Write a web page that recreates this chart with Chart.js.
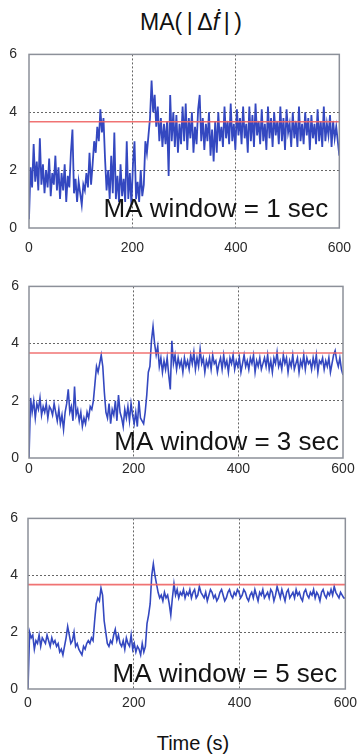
<!DOCTYPE html>
<html>
<head>
<meta charset="utf-8">
<script src="https://cdn.jsdelivr.net/npm/chart.js@4.4.1/dist/chart.umd.min.js"></script>
<style>
  body { margin: 0; background: #fff; width: 363px; height: 755px; position: relative; overflow: hidden;
         font-family: "Liberation Sans", Arial, sans-serif; }
  canvas { position: absolute; left: 0; }
  .lbl { position: absolute; white-space: nowrap; line-height: 1; color: #111; }
</style>
</head>
<body>
<div class="lbl" id="title" style="left:0; width:382px; text-align:center; top:11px; font-size:23px;">MA(&#8201;|&#8201;&Delta;<i>&#7711;</i>&#8201;|&#8201;)</div>
<canvas id="ma1" width="363" height="230" style="top:34px"></canvas>
<canvas id="ma3" width="363" height="226" style="top:268px"></canvas>
<canvas id="ma5" width="363" height="225" style="top:500px"></canvas>
<div class="lbl" style="left:0; width:386px; text-align:center; top:733px; font-size:20px;">Time (s)</div>

<script>
// sample spacing of the traces, seconds
var SAMPLE_SEC = 3;

// MA over 1 s window
var ma1 = [
  0.3, 2.1, 1.4, 2.9, 1.6, 2.3, 1.3, 3.1, 1.5, 2.2,
  1.2, 2.0, 1.4, 2.4, 1.1, 1.9, 1.5, 2.5, 1.3, 2.1,
  1.0, 1.9, 1.3, 2.2, 0.9, 1.8, 1.4, 2.6, 3.4, 1.2,
  1.7, 0.9, 1.6, 1.2, 0.8, 1.5, 1.3, 1.9, 1.4, 2.6,
  1.5, 2.2, 3.0, 2.6, 3.5, 3.0, 4.1, 3.3, 3.8, 2.4,
  1.3, 2.0, 1.0, 2.5, 1.2, 3.3, 1.0, 1.8, 0.9, 2.2,
  1.1, 1.7, 0.9, 3.0, 1.0, 1.9, 0.8, 2.2, 3.0, 1.0,
  1.6, 0.9, 2.0, 1.1, 1.5, 3.0, 2.6, 3.2, 3.8, 5.1,
  4.0, 4.6, 3.5, 4.2, 3.0, 3.8, 2.8, 3.6, 2.9, 3.7,
  1.8, 4.6, 3.0, 4.0, 2.8, 3.9, 2.6, 3.6, 2.9, 4.2,
  3.0, 4.3, 2.7, 3.8, 3.1, 4.0, 2.6, 3.5, 2.9, 4.1,
  4.6, 3.0, 3.8, 2.7, 3.6, 3.0, 4.0, 2.5, 3.4, 2.3,
  3.7, 2.6, 4.0, 3.0, 3.5, 2.8, 4.2, 3.1, 3.7, 2.9,
  4.3, 3.0, 3.6, 2.7, 4.1, 3.2, 3.8, 2.9, 4.2, 3.1,
  3.6, 2.6, 4.2, 3.0, 3.9, 2.8, 4.3, 3.2, 3.7, 2.9,
  4.1, 3.0, 3.6, 2.7, 4.2, 3.1, 3.8, 2.8, 4.0, 3.2,
  3.7, 2.9, 4.2, 3.0, 3.8, 2.7, 4.1, 3.3, 3.6, 2.8,
  4.0, 3.1, 3.7, 2.8, 4.2, 3.0, 3.6, 2.9, 4.0, 3.2,
  3.8, 2.7, 3.9, 3.1, 3.6, 2.9, 4.1, 3.0, 3.7, 2.8,
  4.2, 3.0, 3.6, 3.2, 3.9, 2.8, 3.7, 3.1, 3.5, 3.0,
  2.5
];

// MA over 3 s window
var ma3 = [
  0.0, 2.1, 1.6, 2.0, 1.4, 1.9, 1.7, 2.1, 1.5, 1.8,
  1.6, 1.9, 1.4, 1.8, 1.7, 1.5, 1.9, 1.6, 1.3, 1.7,
  1.2, 1.5, 1.0, 1.6, 1.9, 2.4, 1.6, 1.8, 1.3, 2.5,
  1.5, 1.7, 1.3, 1.6, 1.1, 1.4, 1.2, 1.6, 1.4, 1.8,
  1.7, 2.0, 2.6, 3.2, 3.0, 3.3, 3.6, 3.2, 2.3, 1.6,
  1.4, 1.9, 1.2, 1.7, 1.5, 2.0, 1.3, 2.2, 1.6, 1.4,
  1.1, 1.7, 1.4, 1.8, 1.3, 1.9, 1.5, 1.2, 1.6, 1.1,
  2.0, 1.4, 1.3, 1.2, 1.6, 2.2, 3.0, 3.2, 4.1, 4.6,
  4.0, 3.6, 3.9, 3.2, 3.5, 3.0, 3.4, 3.1, 3.5, 2.9,
  2.4, 4.1, 3.3, 3.6, 3.1, 3.5, 3.2, 3.4, 3.0, 3.5,
  3.2, 3.4, 3.1, 3.6, 3.3, 3.7, 3.1, 3.5, 3.2, 3.8,
  3.3, 3.5, 3.0, 3.4, 3.2, 3.5, 3.1, 3.6, 3.3, 3.4,
  3.0, 3.3, 3.5, 3.1, 3.6, 3.2, 3.4, 3.0, 3.5, 3.3,
  3.6, 3.1, 3.4, 3.2, 3.5, 3.0, 3.3, 3.6, 3.2, 3.4,
  3.1, 3.5, 3.3, 3.6, 3.0, 3.4, 3.2, 3.5, 3.1, 3.3,
  3.5, 3.2, 3.6, 3.1, 3.4, 3.0, 3.5, 3.3, 3.7, 3.2,
  3.4, 3.1, 3.6, 3.3, 3.5, 3.0, 3.4, 3.2, 3.6, 3.1,
  3.3, 3.5, 3.0, 3.4, 3.2, 3.6, 3.1, 3.5, 3.3, 3.4,
  3.1, 3.5, 3.2, 3.6, 3.0, 3.4, 3.3, 3.5, 3.1, 3.4,
  3.2, 3.5, 3.0, 3.3, 3.6, 3.75, 3.4, 3.2, 3.5, 3.1,
  2.9
];

// MA over 5 s window
var ma5 = [
  0.0, 2.0, 1.8, 1.9, 1.4, 1.7, 1.6, 1.9, 1.5, 1.8,
  1.7, 1.6, 1.9, 1.7, 1.5, 1.8, 1.6, 1.7, 1.5, 1.6,
  1.3, 1.4, 1.2, 1.5, 1.8, 2.2, 1.9, 1.6, 1.7, 2.0,
  1.5, 1.6, 1.4, 1.3, 1.2, 1.5, 1.4, 1.6, 1.7, 1.6,
  1.8, 1.7, 2.4, 3.0, 3.2, 3.1, 3.55, 3.3, 2.4, 2.0,
  1.6, 1.5, 1.7, 1.6, 1.9, 2.1, 1.7, 1.9, 1.6, 1.5,
  1.7, 1.4, 1.8, 1.6, 1.5, 1.9, 1.4, 1.6, 1.3, 1.5,
  1.4, 1.2, 1.6, 1.3, 1.5, 2.3, 2.6, 3.0, 4.0, 4.4,
  4.0, 3.7, 3.4, 3.2, 3.3, 3.1, 3.4, 3.2, 3.3, 3.0,
  2.6, 3.2, 3.7, 3.3, 3.5, 3.2, 3.4, 3.3, 3.5, 3.2,
  3.4, 3.3, 3.5, 3.2, 3.4, 3.5, 3.2, 3.3, 3.6, 3.4,
  3.3, 3.2, 3.4, 3.1, 3.3, 3.5, 3.4, 3.2, 3.3, 3.1,
  3.2, 3.4, 3.5, 3.3, 3.1, 3.2, 3.4, 3.5, 3.3, 3.2,
  3.4, 3.3, 3.5, 3.4, 3.2, 3.3, 3.5, 3.4, 3.2, 3.1,
  3.3, 3.4, 3.2, 3.5, 3.3, 3.1, 3.4, 3.3, 3.5, 3.2,
  3.3, 3.4, 3.2, 3.5, 3.4, 3.1, 3.3, 3.6, 3.4, 3.2,
  3.5, 3.3, 3.1, 3.4, 3.5, 3.2, 3.3, 3.4, 3.2, 3.5,
  3.3, 3.4, 3.2, 3.1, 3.4, 3.5, 3.3, 3.2, 3.4, 3.3,
  3.5, 3.2, 3.4, 3.3, 3.1, 3.4, 3.5, 3.3, 3.2, 3.4,
  3.3, 3.5, 3.3, 3.6, 3.4, 3.3, 3.2, 3.4, 3.3, 3.2,
  3.2
];

var threshold = 3.67;
var xTicks = [0, 200, 400, 600];
var yTicks = [0, 2, 4, 6];
var windowLabels = ['MA window = 1 sec', 'MA window = 3 sec', 'MA window = 5 sec'];

var time = ma1.map(function (v, i) { return i * SAMPLE_SEC; });

var fontFamily = '"Liberation Sans", Arial, sans-serif';
var lineBlue = 'rgb(52, 72, 192)';
var thresholdRed = 'rgba(238, 100, 100, 0.9)';
var frameColor = '#8c9099';
var gridColor = '#666';

// grey box round the plot area plus the window caption in the lower right
var framePlugin = {
    id: 'frameAndCaption',
    afterDatasetsDraw: function (chart, args, opts) {
        var ctx = chart.ctx;
        var a = chart.chartArea;
        ctx.save();
        ctx.strokeStyle = frameColor;
        ctx.lineWidth = 1.5;
        ctx.strokeRect(a.left, a.top, a.right - a.left, a.bottom - a.top);
        ctx.font = '26px ' + fontFamily;
        ctx.fillStyle = '#141414';
        ctx.textAlign = 'right';
        ctx.textBaseline = 'alphabetic';
        ctx.fillText(opts.text, a.right - opts.dx, a.bottom - opts.dy);
        ctx.restore();
    }
};

function buildPanel(canvasId, values, caption, layout) {
    var points = values.map(function (v, i) { return { x: time[i], y: v }; });
    var limit = [{ x: xTicks[0], y: threshold }, { x: xTicks[xTicks.length - 1], y: threshold }];

    return new Chart(document.getElementById(canvasId), {
        type: 'line',
        data: {
            datasets: [{
                data: limit,
                borderColor: thresholdRed,
                borderWidth: 1.6,
                pointRadius: 0,
                order: 0
            }, {
                data: points,
                borderColor: lineBlue,
                borderWidth: layout.lineWidth,
                pointRadius: 0,
                tension: 0,
                order: 1
            }]
        },
        options: {
            responsive: false,
            animation: false,
            devicePixelRatio: 1,
            layout: {
                padding: { top: layout.top, right: layout.right, bottom: 0, left: 0 }
            },
            plugins: {
                legend: { display: false },
                tooltip: { enabled: false },
                frameAndCaption: { text: caption, dx: layout.capDx, dy: layout.capDy }
            },
            scales: {
                x: {
                    type: 'linear',
                    min: xTicks[0],
                    max: xTicks[xTicks.length - 1],
                    afterBuildTicks: function (scale) {
                        scale.ticks = xTicks.map(function (v) { return { value: v }; });
                    },
                    afterFit: function (scale) { scale.height = 36; },
                    border: { display: false, dash: [2, 2] },
                    grid: {
                        drawTicks: false,
                        lineWidth: 1,
                        color: function (c) {
                            var v = c.tick && c.tick.value;
                            return (v > xTicks[0] && v < xTicks[xTicks.length - 1]) ? gridColor : 'rgba(0,0,0,0)';
                        }
                    },
                    ticks: {
                        padding: layout.xPad,
                        color: '#2a2a2a',
                        font: { family: fontFamily, size: 14 },
                        maxRotation: 0
                    }
                },
                y: {
                    min: yTicks[0],
                    max: yTicks[yTicks.length - 1],
                    afterBuildTicks: function (scale) {
                        scale.ticks = yTicks.map(function (v) { return { value: v }; });
                    },
                    afterFit: function (scale) { scale.width = layout.left; },
                    border: { display: false, dash: [2, 2] },
                    grid: {
                        drawTicks: false,
                        lineWidth: 1,
                        color: function (c) {
                            var v = c.tick && c.tick.value;
                            return (v > yTicks[0] && v < yTicks[yTicks.length - 1]) ? gridColor : 'rgba(0,0,0,0)';
                        }
                    },
                    ticks: {
                        padding: layout.yPad,
                        color: '#2a2a2a',
                        font: { family: fontFamily, size: 14 }
                    }
                }
            }
        },
        plugins: [framePlugin]
    });
}

buildPanel('ma1', ma1, windowLabels[0], { top: 11, right: 20, left: 29, xPad: 12, yPad: 12, capDx: 11, capDy: 11, lineWidth: 1.8 });
buildPanel('ma3', ma3, windowLabels[1], { top: 10, right: 20, left: 29, xPad: 3, yPad: 10, capDx: 4, capDy: 8, lineWidth: 1.6 });
buildPanel('ma5', ma5, windowLabels[2], { top: 12, right: 15, left: 28, xPad: 6, yPad: 10, capDx: 8, capDy: 7, lineWidth: 1.6 });
</script>
</body>
</html>
